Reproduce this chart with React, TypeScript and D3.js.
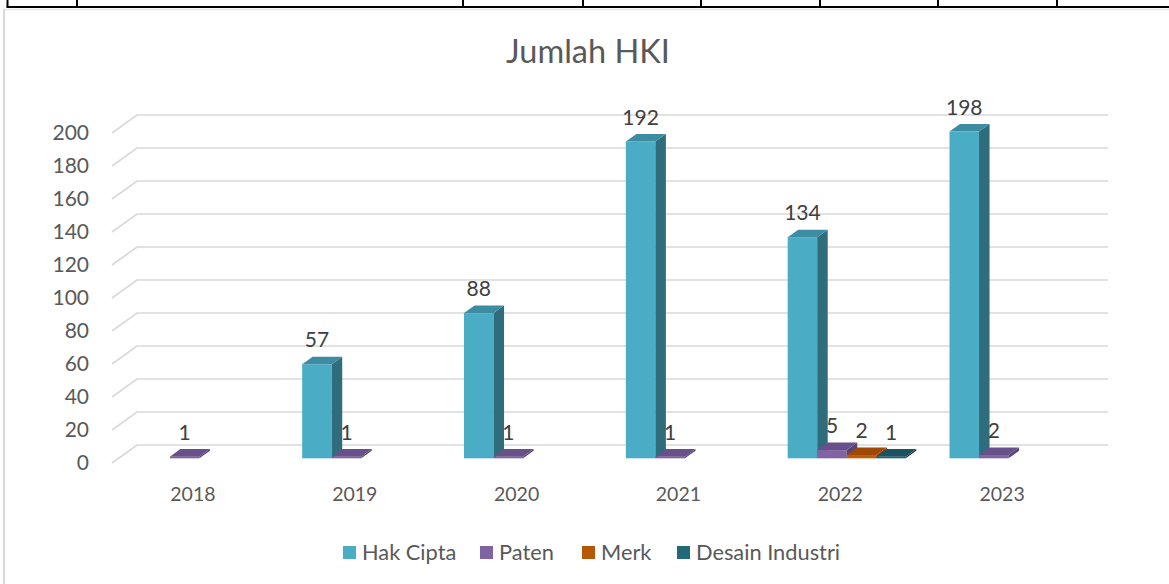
import React from "react";
import * as d3 from "d3";

const years = ["2018", "2019", "2020", "2021", "2022", "2023"];
const seriesNames = ["Hak Cipta", "Paten", "Merk", "Desain Industri"];
const hakCipta = [null, 57, 88, 192, 134, 198];
const paten = [1, 1, 1, 1, 5, 2];
const merk = [null, null, null, null, 2, null];
const desainIndustri = [null, null, null, null, 1, null];
const yTicks = [0, 20, 40, 60, 80, 100, 120, 140, 160, 180, 200];

const seriesValues = [hakCipta, paten, merk, desainIndustri];
// front, top, side
const palette = [
  ["#4bacc6", "#3d8ca1", "#2f6c7c"],
  ["#8064a2", "#68518a", "#574476"],
  ["#c25a0c", "#a04907", "#8a3f06"],
  ["#226474", "#1c5361", "#174550"],
];
const legendColors = ["#4bacc6", "#8064a2", "#b65708", "#23697a"];

const W = 1169, H = 584;
const floorLeft = 112, floorRight = 1083;
const depthX = 25, depthY = -18;
const f0 = 0.26, f1 = 0.68;
const font = "Lato, 'Open Sans', sans-serif";
const textColor = "#595959";

export default function App() {
  const x = d3.scaleBand().domain(years).range([floorLeft, floorRight]).padding(0);
  const y = d3.scaleLinear().domain([0, 200]).range([463, 133]);
  const groupW = x.bandwidth() * 0.73;
  const inner = d3.scaleBand().domain(seriesNames).range([0, groupW]).padding(0);

  const bx = f0 * depthX, by = f0 * depthY;
  const ddx = (f1 - f0) * depthX, ddy = (f1 - f0) * depthY;

  const bars: any[] = [];
  const labels: any[] = [];
  years.forEach((yr, i) => {
    seriesNames.forEach((s, k) => {
      const v = seriesValues[k][i];
      if (v == null) return;
      const left = x(yr)! + x.bandwidth() / 2 - groupW / 2 + inner(s)! + bx;
      const w = inner.bandwidth();
      const bottom = y(0) + by;
      const top = y(v) + by;
      const [cf, ct, cs] = palette[k];
      bars.push(
        <g key={`b-${i}-${k}`}>
          <rect x={left} y={top} width={w} height={Math.max(0, bottom - top)} fill={cf} />
          <path
            d={`M${left + w},${top}L${left + w + ddx},${top + ddy}L${left + w + ddx},${bottom + ddy}L${left + w},${bottom}Z`}
            fill={cs}
          />
          <path
            d={`M${left},${top}L${left + ddx},${top + ddy}L${left + w + ddx},${top + ddy}L${left + w},${top}Z`}
            fill={ct}
          />
        </g>
      );
      labels.push(
        <text key={`l-${i}-${k}`} x={left + w / 2} y={top - 17} textAnchor="middle"
          fontSize={21} fill="#404040" fontFamily={font}>{v}</text>
      );
    });
  });

  const tableX = [7.5, 77, 463, 583, 701, 820, 938, 1057];
  const legendItems = [
    { sq: 343, tx: 362 },
    { sq: 480, tx: 499 },
    { sq: 582, tx: 601 },
    { sq: 677, tx: 696 },
  ];

  return (
    <svg width={W} height={H} style={{ position: "absolute", left: 0, top: 0 }}>
      <rect width={W} height={H} fill="#fff" />
      {/* table edge above the chart */}
      <line x1={6.5} x2={W} y1={7} y2={7} stroke="#000" strokeWidth={2} />
      {tableX.map((tx) => (
        <line key={tx} x1={tx} x2={tx} y1={0} y2={7} stroke="#000" strokeWidth={2} />
      ))}
      {/* chart frame */}
      <line x1={4} x2={W} y1={9.5} y2={9.5} stroke="#e8e8e8" strokeWidth={1.5} />
      <line x1={4} x2={4} y1={9} y2={H} stroke="#d9d9d9" strokeWidth={2} />

      <text x={588} y={63} textAnchor="middle" fontSize={32.5} fill={textColor} fontFamily={font}>
        Jumlah HKI
      </text>

      {yTicks.map((t) => (
        <g key={t}>
          <polyline
            points={`${floorLeft},${y(t)} ${floorLeft + depthX},${y(t) + depthY} ${floorRight + depthX},${y(t) + depthY}`}
            fill="none" stroke="#d9d9d9" strokeWidth={1.7}
          />
          <text x={89} y={y(t)} dy="0.35em" textAnchor="end" fontSize={21} fill={textColor} fontFamily={font}>
            {t}
          </text>
        </g>
      ))}

      {bars}
      {labels}

      {years.map((yr) => (
        <text key={yr} x={x(yr)! + x.bandwidth() / 2} y={494} dy="0.35em" textAnchor="middle"
          fontSize={19.5} fill={textColor} fontFamily={font}>{yr}</text>
      ))}

      {seriesNames.map((s, k) => (
        <g key={s}>
          <rect x={legendItems[k].sq} y={546} width={13} height={13} fill={legendColors[k]} />
          <text x={legendItems[k].tx} y={552.5} dy="0.35em" fontSize={21.8} fill={textColor} fontFamily={font}>
            {s}
          </text>
        </g>
      ))}
    </svg>
  );
}
